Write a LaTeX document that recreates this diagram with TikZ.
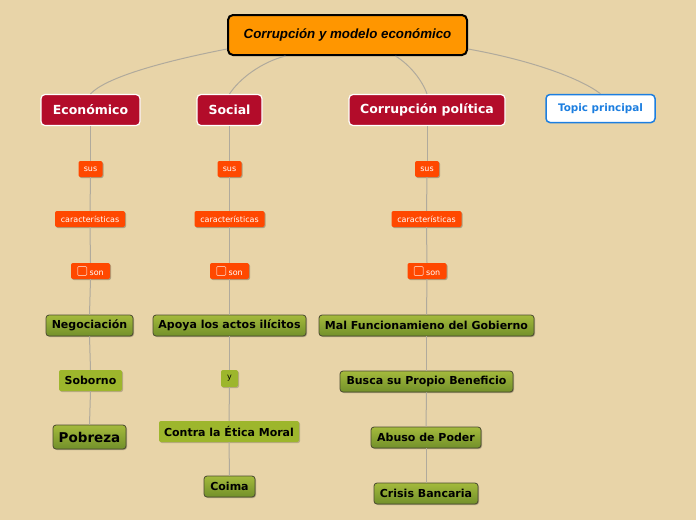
\documentclass[tikz,border=0pt]{standalone}
\usepackage{fontspec}
\setmainfont{DejaVu Sans}
\newfontfamily\rootfont{Liberation Sans}
\usetikzlibrary{shadows}
\definecolor{bg}{HTML}{E8D4A8}
\definecolor{rootor}{HTML}{FF9600}
\definecolor{crim}{HTML}{B30C2A}
\definecolor{redor}{HTML}{FF4800}
\definecolor{gtop}{HTML}{A4BA3C}
\definecolor{gbot}{HTML}{72902A}
\definecolor{gflat}{HTML}{9DB62C}
\definecolor{gborder}{HTML}{4A4A30}
\definecolor{topicblue}{HTML}{1C7EE0}
\definecolor{linegray}{HTML}{B0AA9C}
\newcommand{\chkbox}{\tikz[baseline=-0.5pt]\draw[white!60!redor,line width=0.8pt,rounded corners=1pt] (0pt,-1pt) rectangle (9pt,8pt);}
\tikzset{
  rootbox/.style={draw=black, line width=2pt, fill=rootor, rounded corners=5pt, minimum width=239pt, minimum height=40pt, inner sep=0pt, font=\rootfont\bfseries\itshape\fontsize{13.3}{15}\selectfont},
  mainbox/.style={draw=white, line width=1.2pt, fill=crim, text=white, rounded corners=4pt, minimum height=31pt, inner sep=0pt, font=\bfseries\fontsize{12.5}{14}\selectfont},
  topicbox/.style={draw=topicblue, line width=1.5pt, fill=white, text=topicblue, rounded corners=4pt, minimum height=28pt, inner sep=0pt, font=\bfseries\fontsize{10.4}{12}\selectfont},
  smallbox/.style={fill=redor, text=white, rounded corners=2pt, minimum height=16pt, inner sep=0pt, font=\fontsize{8}{9}\selectfont, drop shadow={shadow xshift=1pt, shadow yshift=-1pt, opacity=0.25, fill=black}},
  greenbox/.style={draw=gborder, line width=0.8pt, top color=gtop, bottom color=gbot, rounded corners=3pt, minimum height=21pt, inner sep=0pt, font=\bfseries\fontsize{11}{13}\selectfont, drop shadow={shadow xshift=1pt, shadow yshift=-1pt, opacity=0.25, fill=black}},
  flatbox/.style={fill=gflat, rounded corners=2pt, minimum height=21pt, inner sep=0pt, font=\bfseries\fontsize{11}{13}\selectfont, drop shadow={shadow xshift=1pt, shadow yshift=-1pt, opacity=0.2, fill=black}},
  conn/.style={draw=linegray, line width=1pt},
}
\begin{document}
\begin{tikzpicture}[x=1pt,y=-1pt]
\fill[bg] (0,0) rectangle (696,520);
\useasboundingbox (0,0) rectangle (696,520);
% root and main topics
\node[rootbox] (root) at (347.5,35) {Corrupción y modelo económico};
\node[mainbox, minimum width=99pt] (eco) at (90.5,110) {Económico};
\node[mainbox, minimum width=65pt] (soc) at (229.5,110) {Social};
\node[mainbox, minimum width=156pt] (pol) at (427,110) {Corrupción política};
\node[topicbox, minimum width=109pt] (topic) at (600.5,108.5) {Topic principal};
% Económico column
\node[smallbox, minimum width=24pt] (s1) at (90.5,169) {sus};
\node[smallbox, minimum width=70pt] (c1) at (90,219) {características};
\node[smallbox, minimum width=39pt] (n1) at (90.5,271) {\chkbox\ son};
\node[greenbox, minimum width=87pt] (neg) at (89.5,325.5) {Negociación};
\node[flatbox, minimum width=63pt] (sob) at (90.5,380.5) {Soborno};
\node[greenbox, minimum width=73pt, minimum height=24pt, font=\bfseries\fontsize{13.5}{15}\selectfont] (pob) at (89.5,437) {Pobreza};
% Social column
\node[smallbox, minimum width=24pt] (s2) at (229.5,169) {sus};
\node[smallbox, minimum width=70pt] (c2) at (229.5,219) {características};
\node[smallbox, minimum width=39pt] (n2) at (229.5,271) {\chkbox\ son};
\node[greenbox, minimum width=153pt] (apo) at (229.5,325.5) {Apoya los actos ilícitos};
\node[flatbox, minimum width=17pt, minimum height=17pt, font=\fontsize{8}{9}\selectfont] (y) at (229.5,378.5) {y};
\node[flatbox, minimum width=140pt] (eti) at (229,431.5) {Contra la Ética Moral};
\node[greenbox, minimum width=51pt] (coi) at (229.5,486.5) {Coima};
% Corrupción política column
\node[smallbox, minimum width=24pt] (s3) at (427,169) {sus};
\node[smallbox, minimum width=70pt] (c3) at (426.5,219) {características};
\node[smallbox, minimum width=39pt] (n3) at (427,271) {\chkbox\ son};
\node[greenbox, minimum width=215pt] (mal) at (426.5,325.5) {Mal Funcionamieno del Gobierno};
\node[greenbox, minimum width=173pt] (bus) at (426.5,381.5) {Busca su Propio Beneficio};
\node[greenbox, minimum width=110pt] (abu) at (426,437.5) {Abuso de Poder};
\node[greenbox, minimum width=104pt] (cri) at (426,493.5) {Crisis Bancaria};
% connectors from root
\draw[conn] ([yshift=7pt]root.south west) .. controls (160,62) and (105,78) .. (eco.north);
\draw[conn] ([xshift=-62pt]root.south) .. controls (262,62) and (240,78) .. (soc.north);
\draw[conn] ([xshift=48pt]root.south) .. controls (410,65) and (422,80) .. (pol.north);
\draw[conn] ([yshift=7pt]root.south east) .. controls (530,60) and (580,78) .. (topic.north);
% column connectors
\foreach \a/\b in {eco/s1,s1/c1,c1/n1,n1/neg,neg/sob,sob/pob,
                   soc/s2,s2/c2,c2/n2,n2/apo,apo/y,y/eti,eti/coi,
                   pol/s3,s3/c3,c3/n3,n3/mal,mal/bus,bus/abu,abu/cri}
  \draw[conn] (\a.south) -- (\b.north);
\end{tikzpicture}
\end{document}
